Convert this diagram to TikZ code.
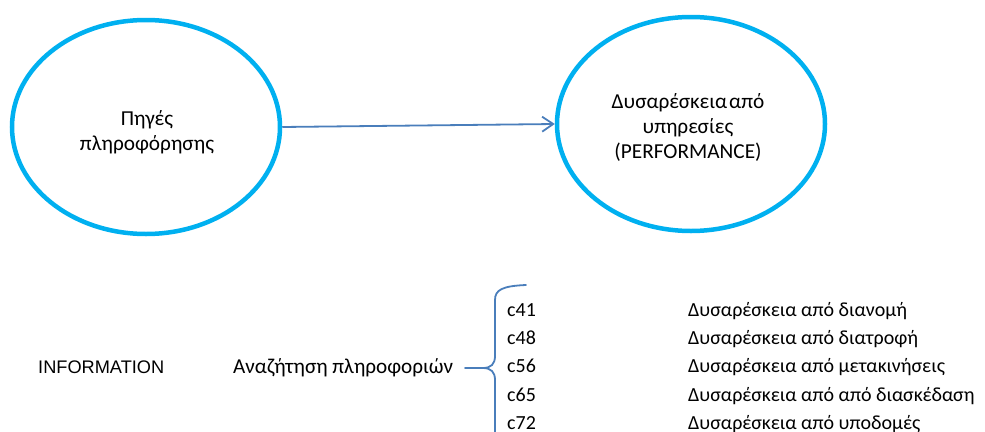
\documentclass[tikz,border=0pt]{standalone}
\usepackage{fontspec}
\setmainfont{Carlito}
\newfontfamily\arialfont{Liberation Sans}
\usetikzlibrary{shapes.geometric,arrows.meta}
\definecolor{ringblue}{HTML}{00B0F0}
\definecolor{lineblue}{HTML}{4A7EBB}
\begin{document}
\begin{tikzpicture}[x=1pt,y=-1pt,
  ring/.style={ellipse,draw=ringblue,line width=4.5pt,minimum width=268pt,minimum height=214pt,inner sep=0pt},
  ringtxt/.style={anchor=base,inner sep=0pt,font=\fontsize{21.3}{25}\selectfont},
  txt/.style={anchor=base west,inner sep=0pt,font=\fontsize{20}{24}\selectfont},
  arialtxt/.style={anchor=base west,inner sep=0pt,font=\arialfont\fontsize{18.2}{21}\selectfont},
  link/.style={draw=lineblue,line width=1.8pt},
]
\clip (0,0) rectangle (985,431);
\useasboundingbox (0,0) rectangle (985,431);

% two concepts and the relation between them
\node[ring] (src) at (146,127) {};
\node[ring] (dst) at (691,124) {};
\node[ringtxt] (srcA) at (147,125) {Πηγές};
\node[ringtxt] (srcB) at (147,150) {πληροφόρησης};
\node[ringtxt] (dstA) at (688,108) {Δυσαρέσκεια\hspace{2pt}από};
\node[ringtxt] (dstB) at (688,133) {υπηρεσίες};
\node[ringtxt] (dstC) at (688,158) {(PERFORMANCE)};
\draw[link,-{Straight Barb[length=11pt,width=15pt,line width=1.8pt]}] (src.east) -- (dst.west);

% measurement block
\node[arialtxt] (info) at (38,373) {INFORMATION};
\node[txt,font=\fontsize{21.2}{24}\selectfont] (search) at (233,373) {Αναζήτηση πληροφοριών};
\coordinate (tip) at (465,368);

\foreach \code/\desc/\yy/\nm in {c41/Δυσαρέσκεια από διανομή/316/a,
                                  c48/Δυσαρέσκεια από διατροφή/344.3/b,
                                  c56/Δυσαρέσκεια από μετακινήσεις/372.6/c,
                                  c65/Δυσαρέσκεια από από διασκέδαση/401/d,
                                  c72/Δυσαρέσκεια από υποδομές/429/e}{
  \node[txt] (code\nm) at (507,\yy) {\code};
  \node[txt] (desc\nm) at (688,\yy) {\desc};
}

% curly brace grouping the items
\draw[link,line cap=round] (tip) -- (483,368)
  .. controls (491,368) and (495,364) .. (495,356) -- (495,300)
  .. controls (495,290) and (502,286) .. (526,285);
\draw[link] (483,368) .. controls (491,368) and (495,372) .. (495,380) -- (495,445);
\end{tikzpicture}
\end{document}
